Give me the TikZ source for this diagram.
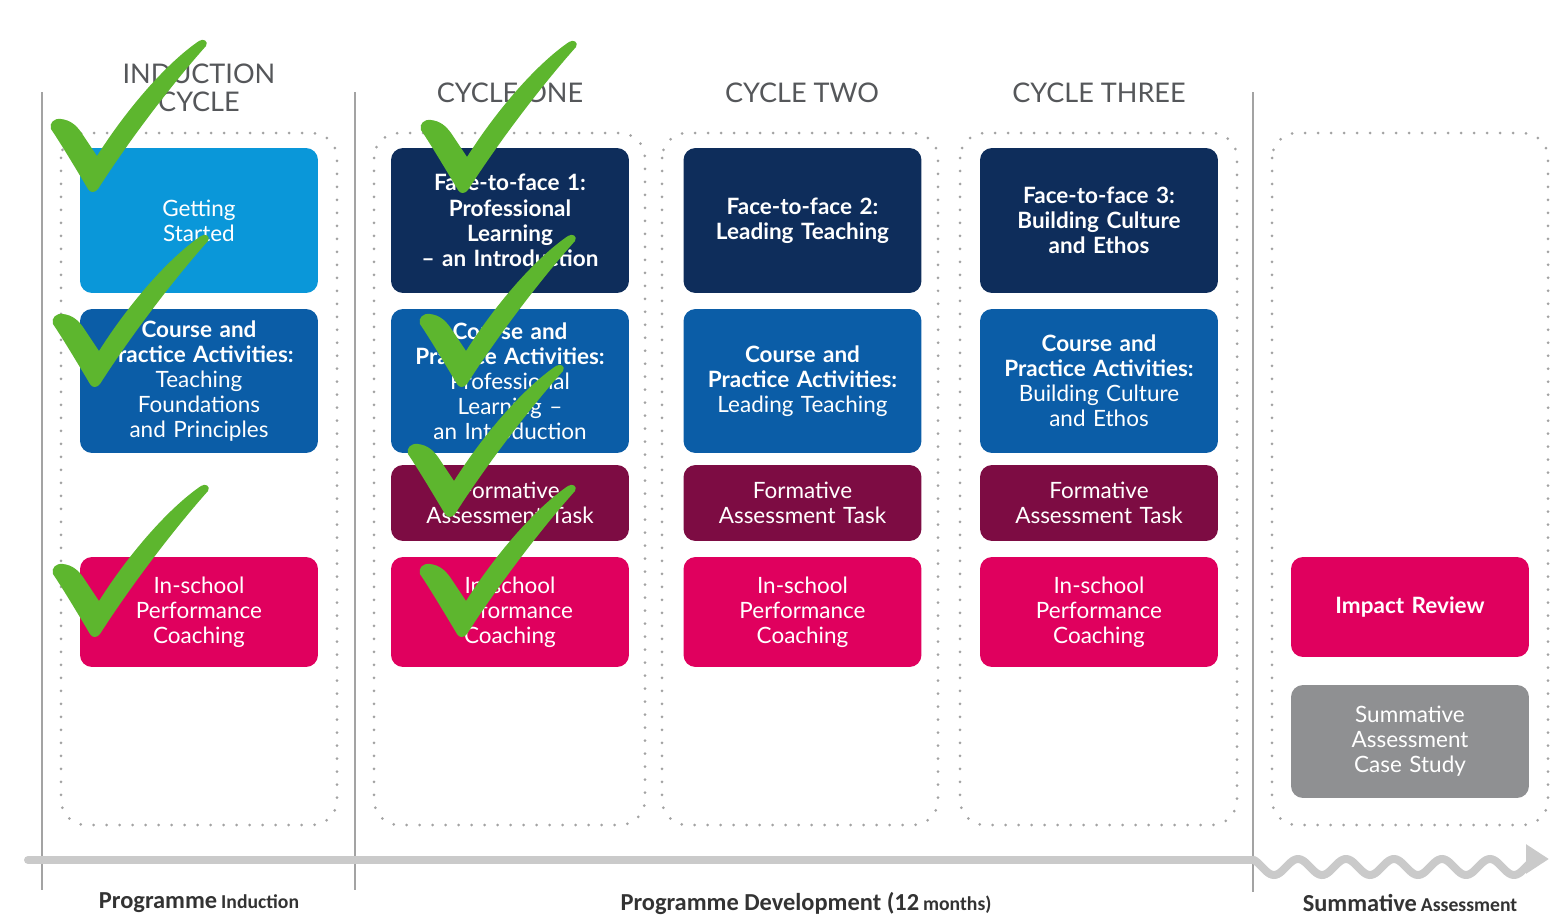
\documentclass[tikz,border=0pt]{standalone}
\usepackage{fontspec}
\setmainfont{Lato}
\newfontfamily\labelfont{Carlito}
\usepackage{xcolor}
\usetikzlibrary{arrows.meta}

\definecolor{skyblue}{HTML}{0A97D9}
\definecolor{midblue}{HTML}{0B5DA7}
\definecolor{navyblue}{HTML}{0E2D5B}
\definecolor{plum}{HTML}{7D0C43}
\definecolor{hotpink}{HTML}{E0005E}
\definecolor{boxgray}{HTML}{8F9092}
\definecolor{headgray}{HTML}{55575A}
\definecolor{tickgreen}{HTML}{5DB62E}
\definecolor{linegray}{HTML}{A3A3A3}
\definecolor{railgray}{HTML}{CACACA}

\tikzset{
  donemark/.pic={
    \fill[tickgreen] (0,2) .. controls (-12,-18) and (-25,-40) .. (-37,-58)
      .. controls (-39,-64) and (-34,-69) .. (-27,-68)
      .. controls (-18,-67) and (-12,-62) .. (-7,-55)
      -- (9,-31)
      .. controls (40,-80) and (80,-125) .. (111,-146)
      .. controls (115,-149) and (121,-146) .. (118,-141)
      .. controls (85,-104) and (42,-48) .. (10,2)
      .. controls (7,6) and (2,6) .. (0,2) -- cycle;
  }
}

\begin{document}
\begin{tikzpicture}[
    x=0.02cm, y=-0.02cm,
    blok/.style={rounded corners=0.24cm, minimum width=4.76cm, text width=4.7cm,
                 align=center, text=white, inner sep=0pt,
                 font=\fontsize{12.8}{14.3}\selectfont},
    facebox/.style={blok, fill=navyblue, minimum height=2.9cm, font=\fontsize{12.8}{14.3}\selectfont\bfseries},
    coursebox/.style={blok, fill=midblue, minimum height=2.88cm},
    taskbox/.style={blok, fill=plum, minimum height=1.52cm},
    coachbox/.style={blok, fill=hotpink, minimum height=2.2cm},
    kop/.style={text=headgray, align=center, font=\fontsize{15.4}{16}\selectfont},
    frame/.style={draw=linegray, line width=0.06cm, line cap=round,
                  dash pattern=on 0pt off 0.26cm, rounded corners=0.5cm},
    sepline/.style={draw=linegray, line width=0.04cm},
    rail/.style={draw=railgray, line width=0.16cm, line cap=round},
    onderschrift/.style={text=black!80, font=\labelfont\bfseries}
  ]
    \useasboundingbox (0,0) rectangle (1552,916);

    \draw[frame] (61,133) rectangle (337,825);
    \draw[frame] (374,133) rectangle (645,825);
    \draw[frame] (662,133) rectangle (938,825);
    \draw[frame] (960,133) rectangle (1237,825);
    \draw[frame] (1272,133) rectangle (1548,825);

    \draw[sepline] (42,92) -- (42,890);
    \draw[sepline] (355,92) -- (355,890);
    \draw[sepline] (1253,92) -- (1253,892);

    \draw[rail] (28,860) -- (1253,860);
    \draw[rail, line cap=butt, -{Triangle[length=0.46cm, width=0.56cm]}]
      plot[variable=\t, domain=0.06:6, samples=150, smooth] ({1250+48*\t}, {867-8*cos(360*\t)})
      -- (1549,859);

    \node[kop] (hd-ind) at (199,88) {INDUCTION\\CYCLE};
    \node[kop] (hd-one) at (510,93) {CYCLE ONE};
    \node[kop] (hd-two) at (802,93) {CYCLE TWO};
    \node[kop] (hd-three) at (1099,93) {CYCLE THREE};

    \node[blok, fill=skyblue, minimum height=2.9cm] (start) at (199,220.5) {Getting\\Started};
    \node[coursebox] (course-ind) at (199,381)
      {\textbf{Course and}\\\textbf{Practice Activities:}\\Teaching\\Foundations\\and Principles};

    \node[facebox] (face-one) at (510,220.5) {Face-to-face 1:\\Professional\\Learning\\– an Introduction};
    \node[facebox] (face-two) at (802.5,220.5) {Face-to-face 2:\\Leading Teaching};
    \node[facebox] (face-three) at (1099,220.5) {Face-to-face 3:\\Building Culture\\and Ethos};

    \node[coursebox] (course-one) at (510,381)
      {\textbf{Course and}\\\textbf{Practice Activities:}\\Professional\\Learning –\\an Introduction};
    \node[coursebox] (course-two) at (802.5,381)
      {\textbf{Course and}\\\textbf{Practice Activities:}\\Leading Teaching};
    \node[coursebox] (course-three) at (1099,381)
      {\textbf{Course and}\\\textbf{Practice Activities:}\\Building Culture\\and Ethos};

    \foreach \cx/\nm in {510/one, 802.5/two, 1099/three} {
      \node[taskbox] (task-\nm) at (\cx,503) {Formative\\Assessment Task};
    }
    \foreach \cx/\nm in {199/ind, 510/one, 802.5/two, 1099/three} {
      \node[coachbox] (coach-\nm) at (\cx,612) {In-school\\Performance\\Coaching};
    }

    \node[coachbox, minimum height=2.0cm, font=\fontsize{12.8}{14.3}\selectfont\bfseries] (impact) at (1410,607) {Impact Review};
    \node[blok, fill=boxgray, minimum height=2.26cm] (summative) at (1410,741.5) {Summative\\Assessment\\Case Study};

    \node[onderschrift] (lab-ind) at (199,903) {{\fontsize{13.9}{15}\selectfont Programme} {\fontsize{11.2}{13}\selectfont Induction}};
    \node[onderschrift] (lab-dev) at (806,903) {{\fontsize{13.9}{15}\selectfont Programme Development (12} {\fontsize{11.2}{13}\selectfont months)}};
    \node[onderschrift] (lab-sum) at (1410,903) {{\fontsize{13.9}{15}\selectfont Summative} {\fontsize{11.2}{13}\selectfont Assessment}};

    \foreach \bx/\by in {88/187, 90/382, 90/632, 458/188, 457/382, 445/512, 457/632} {
      \pic at (\bx,\by) {donemark};
    }
  \end{tikzpicture}
\end{document}
